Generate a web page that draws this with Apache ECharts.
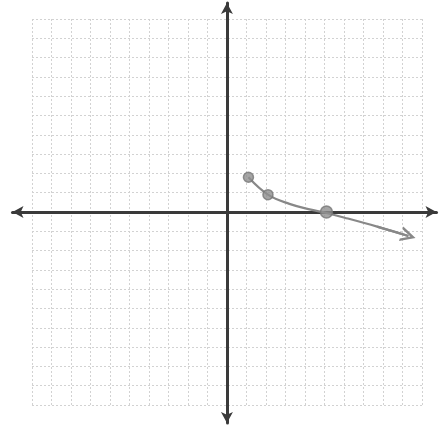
<!DOCTYPE html>
<html>
<head>
<meta charset="utf-8">
<script src="https://cdn.jsdelivr.net/npm/echarts@6/dist/echarts.min.js"></script>
<style>html,body{margin:0;padding:0;background:#fff;}#main{width:443px;height:425px;}</style>
</head>
<body>
<div id="main"></div>
<script>
// Curve
var curveX = [1.1, 2.1, 3.2, 4.3, 5.1, 6.2, 7.7, 9.3];
var curveY = [1.8, 0.9, 0.42, 0.12, -0.05, -0.34, -0.76, -1.24];
// Plotted points
var pointX = [1.1, 2.1, 5.1];
var pointY = [1.8, 0.9, 0.0];
// Grid range
var gridMin = -10, gridMax = 10;

var curveData = curveX.map(function (x, i) { return [x, curveY[i]]; });
var pointData = pointX.map(function (x, i) { return [x, pointY[i]]; });
var n = curveX.length;
var arrowSeg = [[curveX[n - 2], curveY[n - 2]], [curveX[n - 1], curveY[n - 1]]];

var chart = echarts.init(document.getElementById('main'), null, {renderer: 'canvas'});
var hidden = {show: false};
var axisColor = '#3a3a3a';
var option = {
  backgroundColor: '#ffffff',
  animation: false,
  grid: [
    {left: 32, top: 19, width: 390, height: 386},
    {left: 12.5, top: 3, width: 424, height: 420}
  ],
  xAxis: [
    {gridIndex: 0, type: 'value', min: gridMin, max: gridMax, interval: 1,
     axisLine: hidden, axisTick: hidden, axisLabel: hidden,
     splitLine: {show: true, lineStyle: {color: '#d2d2d2', width: 1, type: [2, 2]}}},
    {gridIndex: 1, type: 'value', min: -11, max: 10.75,
     axisLine: {show: true, onZero: true, symbol: ['arrow', 'arrow'], symbolSize: [9, 11],
       lineStyle: {color: axisColor, width: 3}},
     axisTick: hidden, axisLabel: hidden, splitLine: hidden}
  ],
  yAxis: [
    {gridIndex: 0, type: 'value', min: gridMin, max: gridMax, interval: 1,
     axisLine: hidden, axisTick: hidden, axisLabel: hidden,
     splitLine: {show: true, lineStyle: {color: '#d2d2d2', width: 1, type: [2, 2]}}},
    {gridIndex: 1, type: 'value', min: -10.9, max: 10.8,
     axisLine: {show: true, onZero: true, symbol: ['arrow', 'arrow'], symbolSize: [9, 11],
       lineStyle: {color: axisColor, width: 3}},
     axisTick: hidden, axisLabel: hidden, splitLine: hidden}
  ],
  series: [
    {type: 'line', xAxisIndex: 0, yAxisIndex: 0, data: curveData, smooth: 0.4,
     showSymbol: false, symbol: 'none', lineStyle: {color: '#888888', width: 2.2}, z: 3},
    {type: 'lines', coordinateSystem: 'cartesian2d', xAxisIndex: 0, yAxisIndex: 0,
     symbol: ['none', 'path://M0,10 L5,0 L10,10 L8.2,10 L5,3.6 L1.8,10 Z'], symbolSize: [14, 15],
     lineStyle: {color: '#888888', width: 2.2, opacity: 1},
     data: [{coords: arrowSeg}], z: 3},
    {type: 'scatter', xAxisIndex: 0, yAxisIndex: 0, data: pointData,
     symbol: 'circle', symbolSize: function (v, p) { return p.dataIndex === 2 ? 12 : 10; },
     itemStyle: {color: '#8f8f8f', borderColor: '#777', borderWidth: 1.5}, z: 4}
  ]
};
chart.setOption(option);
</script>
</body>
</html>
